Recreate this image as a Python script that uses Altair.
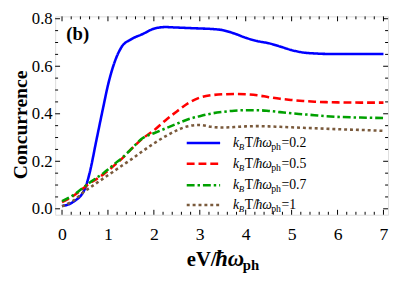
import altair as alt
import pandas as pd

# ---------------- data ----------------
x_vals = [0, 0.25, 0.5, 0.6, 0.75, 0.9, 1.0, 1.15, 1.3, 1.5, 1.75, 2.0, 2.25, 2.5, 2.75,
          3.0, 3.25, 3.5, 3.75, 4.0, 4.25, 4.5, 4.75, 5.0, 5.25, 5.5, 5.75, 6.0, 6.5, 7.0]
conc_T02 = [0.012, 0.03, 0.085, 0.15, 0.29, 0.43, 0.52, 0.62, 0.682, 0.713, 0.735, 0.758, 0.765, 0.763, 0.761,
            0.759, 0.757, 0.752, 0.738, 0.72, 0.706, 0.697, 0.683, 0.668, 0.658, 0.654, 0.652, 0.652, 0.652, 0.652]
conc_T05 = [0.028, 0.055, 0.092, 0.107, 0.125, 0.145, 0.16, 0.185, 0.21, 0.25, 0.295, 0.33, 0.372, 0.41, 0.445,
            0.468, 0.478, 0.482, 0.483, 0.482, 0.478, 0.47, 0.463, 0.458, 0.454, 0.451, 0.449, 0.448, 0.447, 0.447]
conc_T07 = [0.032, 0.058, 0.095, 0.11, 0.13, 0.15, 0.165, 0.19, 0.213, 0.25, 0.297, 0.318, 0.338, 0.358, 0.377,
            0.39, 0.401, 0.408, 0.413, 0.415, 0.415, 0.412, 0.407, 0.402, 0.398, 0.394, 0.39, 0.387, 0.384, 0.382]
conc_T10 = [0.01, 0.035, 0.075, 0.088, 0.108, 0.128, 0.141, 0.161, 0.181, 0.207, 0.242, 0.275, 0.305, 0.33, 0.348,
            0.353, 0.345, 0.342, 0.344, 0.347, 0.348, 0.347, 0.345, 0.343, 0.341, 0.339, 0.337, 0.335, 0.332, 0.328]

temps = ["0.2", "0.5", "0.7", "1"]
series = [conc_T02, conc_T05, conc_T07, conc_T10]
colors = ["#0000ff", "#ff0000", "#00a000", "#7a5a3c"]
dashes = [[1, 0], [8, 4], [8, 3, 2.5, 3], [3, 3]]

x_major = [0, 1, 2, 3, 4, 5, 6, 7]
x_minor = [round(0.2 * k, 1) for k in range(36) if k % 5]
y_major = [0.0, 0.2, 0.4, 0.6, 0.8]
y_minor = [round(0.05 * k, 2) for k in range(17) if k % 4]

# ---------------- layout ----------------
W, H = 339, 202
FONT = "Liberation Serif"

rows = []
for t, ys in zip(temps, series):
    for xv, yv in zip(x_vals, ys):
        rows.append({"x": xv, "y": yv, "T": t})
df = pd.DataFrame(rows)

xs = alt.Scale(domain=[-0.15, 7.1], nice=False, zero=False)
ysc = alt.Scale(domain=[-0.025, 0.81], nice=False, zero=False)

x_axis = alt.Axis(values=x_major, ticks=False, domain=False, grid=False,
                  labelFont=FONT, labelFontSize=18, labelColor="black",
                  labelPadding=11, labelFlush=False, title=None)
y_axis = alt.Axis(values=y_major, format=".1f", ticks=False, domain=False, grid=False,
                  labelFont=FONT, labelFontSize=17, labelColor="black",
                  labelPadding=3, labelFlush=False, title=None)

lines = alt.Chart(df).mark_line(strokeWidth=2.6, interpolate="monotone", strokeCap="butt").encode(
    x=alt.X("x:Q", scale=xs, axis=x_axis),
    y=alt.Y("y:Q", scale=ysc, axis=y_axis),
    color=alt.Color("T:N", scale=alt.Scale(domain=temps, range=colors), legend=None),
    strokeDash=alt.StrokeDash("T:N", scale=alt.Scale(domain=temps, range=dashes), legend=None),
)


def ticks(vals, side, length):
    d = pd.DataFrame({"x": vals, "y": vals})
    base = alt.Chart(d).mark_rule(color="black", strokeWidth=1)
    if side == "bottom":
        return base.encode(x=alt.X("x:Q", scale=xs, axis=x_axis), y=alt.value(H), y2=alt.value(H - length))
    if side == "top":
        return base.encode(x=alt.X("x:Q", scale=xs, axis=x_axis), y=alt.value(0), y2=alt.value(length))
    if side == "left":
        return base.encode(y=alt.Y("y:Q", scale=ysc, axis=y_axis), x=alt.value(0), x2=alt.value(length))
    return base.encode(y=alt.Y("y:Q", scale=ysc, axis=y_axis), x=alt.value(W), x2=alt.value(W - length))


tick_layers = []
for side in ["bottom", "top"]:
    tick_layers.append(ticks(x_major, side, 5))
    tick_layers.append(ticks(x_minor, side, 3))
for side in ["left", "right"]:
    tick_layers.append(ticks(y_major, side, 5))
    tick_layers.append(ticks(y_minor, side, 3))

one = pd.DataFrame({"i": [0]})


def txt(s, x, y, size, align="left", angle=0, **kw):
    return alt.Chart(one).mark_text(text=s, align=align, baseline="alphabetic", font=FONT, fontSize=size,
                                    color="black", angle=angle, **kw).encode(x=alt.value(x), y=alt.value(y))


texts = []
# legend
leg_line_y = [129, 150, 172, 192]
for t, c, dsh, ly in zip(temps, colors, dashes, leg_line_y):
    texts.append(alt.Chart(one).mark_rule(color=c, strokeWidth=2.6, strokeDash=dsh, strokeCap="butt").encode(
        x=alt.value(134), x2=alt.value(168), y=alt.value(ly)))
    by = ly + 4
    texts.append(txt("k", 181, by, 14, fontStyle="italic"))
    texts.append(txt("B", 187, by + 3, 9, fontStyle="italic"))
    texts.append(txt("T/", 193, by, 14))
    texts.append(txt("ħω", 204, by, 14, fontStyle="italic"))
    texts.append(txt("ph", 220, by + 3, 10))
    texts.append(txt("=" + t, 230.5, by, 14))

# panel label
texts.append(txt("(b)", 23, 24.5, 19, align="center", fontWeight="bold"))
# y title
texts.append(txt("Concurrence", -29, 110.5, 20, align="center", angle=270, fontWeight="bold"))
# x title
texts.append(txt("eV/", 134, 254, 21, fontWeight="bold"))
texts.append(txt("ħω", 163, 254, 23, fontWeight="bold", fontStyle="italic"))
texts.append(txt("ph", 191, 258, 15, fontWeight="bold"))

chart = alt.layer(lines, *tick_layers, *texts).properties(
    width=W, height=H,
    autosize=alt.AutoSizeParams(type="none"),
    padding={"left": 48, "top": 6, "right": 3, "bottom": 68},
).configure_view(stroke="black", strokeWidth=1.2).configure(background="white")

chart.save("out.html", embed_options={"renderer": "svg", "actions": False})
